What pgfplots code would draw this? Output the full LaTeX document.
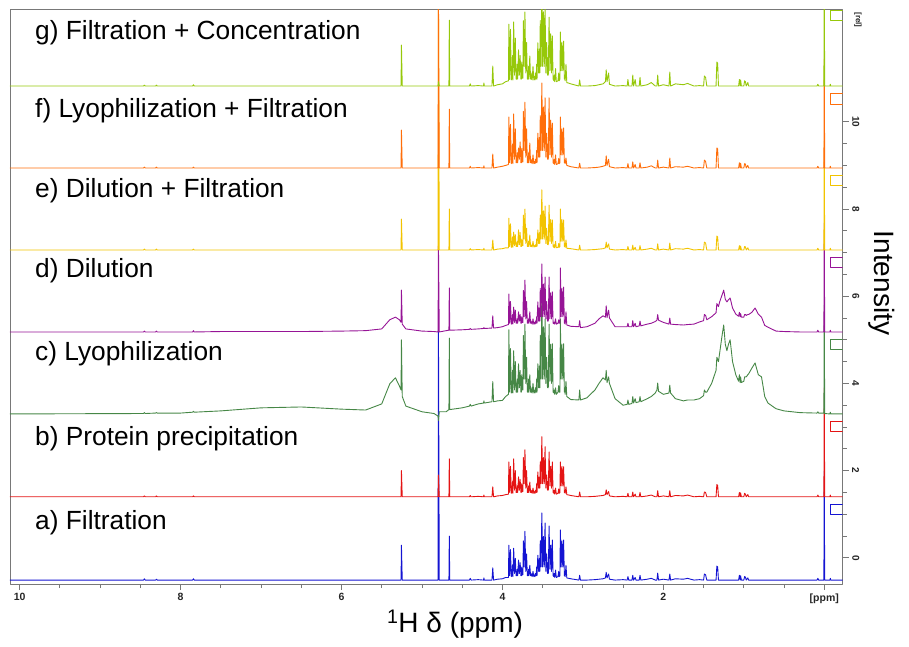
\documentclass[border=0pt]{standalone}
\usepackage{pgfplots}
\pgfplotsset{compat=1.18}
\usepackage{pgfplotstable}
\usepackage{fontspec}
\setmainfont{Liberation Sans}

\definecolor{ca}{RGB}{20,20,210}
\definecolor{cb}{RGB}{228,20,20}
\definecolor{cc}{RGB}{70,135,70}
\definecolor{cd}{RGB}{150,20,150}
\definecolor{ce}{RGB}{242,195,0}
\definecolor{cf}{RGB}{255,110,10}
\definecolor{cg}{RGB}{150,200,10}
\definecolor{frame}{RGB}{120,120,120}

% heights above each spectrum's own baseline (intensity units)
\pgfplotstableread{
ppm a b c d e f g
10.12 0 0 0 0 0 0 0
8.46 0 0 0.01 0 0 0 0
8.45 0.03 0.02 0.03 0.02 0.02 0.02 0.02
8.44 0 0 0.01 0 0 0 0
8.31 0 0 0.02 0 0 0 0
8.30 0.02 0.02 0.03 0.02 0.02 0.02 0.02
8.29 0 0 0.02 0 0 0 0
8.0 0 0 0.02 0 0 0 0
7.85 0 0 0.04 0 0 0 0
7.84 0.03 0.02 0.06 0.03 0.02 0.02 0.03
7.83 0 0 0.04 0 0 0 0
7.5 0 0 0.07 0.01 0 0 0
7.0 0 0 0.14 0.01 0 0 0
6.5 0 0 0.16 0.01 0 0 0
6.0 0 0 0.11 0.02 0 0 0
5.7 0 0 0.09 0.03 0 0 0
5.5 0 0 0.23 0.07 0 0 0
5.4 0 0 0.69 0.28 0 0 0
5.33 0 0 0.83 0.34 0 0 0
5.28 0 0 0.64 0.28 0 0 0
5.26 0 0 0.55 0.22 0 0 0
5.255 0.80 0.60 1.70 0.96 0.71 0.87 0.94
5.245 0 0 0.40 0.18 0 0 0
5.2 0 0 0.18 0.07 0 0 0
5.0 0 0 0.05 0.02 0 0 0
4.85 0 0 0.01 0.01 0 0 0
4.80 0 0 -0.05 0 0 0 0
4.795 5.80 0.50 -0.15 2.00 6.00 4.00 0.10
4.785 0 0 0.05 0 0 0 0
4.70 0 0 0.05 0.03 0 0 0
4.665 0 0 0.10 0.04 0 0 0
4.66 1.01 0.87 1.74 1.01 0.94 1.35 1.51
4.655 0 0 0.10 0.04 0 0 0
4.5 0 0 0.14 0.05 0 0 0
4.41 0 0 0.18 0.06 0 0 0
4.40 0.04 0.03 0.22 0.08 0.03 0.04 0.05
4.39 0 0 0.18 0.06 0 0 0
4.3 0.01 0.01 0.23 0.07 0.01 0.01 0.01
4.235 0 0 0.25 0.08 0 0 0
4.23 0.05 0.04 0.30 0.10 0.04 0.05 0.07
4.225 0 0 0.25 0.08 0 0 0
4.13 0 0 0.28 0.09 0 0 0
4.12 0.28 0.23 0.74 0.37 0.23 0.32 0.46
4.11 0 0 0.28 0.09 0 0 0
4.06 0.02 0.02 0.30 0.10 0.02 0.02 0.03
4.0 0.03 0.03 0.31 0.12 0.03 0.04 0.05
3.96 0.06 0.05 0.40 0.15 0.05 0.06 0.10
3.925 0.06 0.06 0.45 0.17 0.05 0.08 0.12
3.92 0.80 0.80 1.93 0.87 0.73 1.17 1.42
3.91 0.10 0.10 0.50 0.20 0.08 0.12 0.15
3.90 0.70 0.70 1.50 0.70 0.60 1.00 1.30
3.89 0.08 0.08 0.48 0.18 0.06 0.10 0.14
3.88 0.12 0.12 0.50 0.20 0.10 0.15 0.20
3.875 0.35 0.35 1.00 0.40 0.30 0.55 0.70
3.87 0.08 0.08 0.48 0.18 0.06 0.10 0.14
3.86 0.73 0.87 1.45 0.57 0.41 1.24 1.47
3.85 0.15 0.15 0.55 0.22 0.10 0.20 0.25
3.84 0.50 0.60 1.20 0.50 0.35 0.90 1.10
3.83 0.10 0.10 0.50 0.20 0.08 0.12 0.16
3.82 0.10 0.10 0.50 0.20 0.08 0.12 0.16
3.815 0.25 0.25 0.80 0.30 0.20 0.35 0.50
3.81 0.10 0.10 0.50 0.20 0.08 0.12 0.16
3.80 0.46 0.46 1.15 0.46 0.46 0.46 0.83
3.79 0.15 0.15 0.60 0.25 0.12 0.20 0.25
3.78 0.40 0.40 1.00 0.40 0.40 0.60 0.70
3.77 0.10 0.10 0.50 0.20 0.08 0.12 0.16
3.765 0.10 0.10 0.50 0.20 0.08 0.12 0.16
3.76 0.30 0.30 0.90 0.35 0.25 0.45 0.55
3.755 0.12 0.12 0.55 0.22 0.10 0.14 0.18
3.745 0.12 0.12 0.55 0.22 0.10 0.14 0.18
3.74 0.90 0.90 1.80 0.95 0.80 1.30 1.50
3.73 0.30 0.30 0.80 0.35 0.25 0.40 0.45
3.72 1.12 1.08 2.06 1.19 0.94 1.51 1.70
3.71 0.20 0.20 0.70 0.30 0.15 0.25 0.30
3.70 0.60 0.60 1.30 0.70 0.50 0.90 1.00
3.69 0.10 0.10 0.50 0.20 0.08 0.12 0.16
3.68 0.10 0.10 0.50 0.20 0.08 0.12 0.16
3.675 0.25 0.25 0.80 0.30 0.20 0.35 0.45
3.67 0.10 0.10 0.50 0.20 0.08 0.12 0.16
3.66 0.34 0.34 0.90 0.46 0.34 0.57 0.69
3.65 0.10 0.10 0.50 0.20 0.08 0.12 0.16
3.64 0.10 0.10 0.50 0.20 0.08 0.12 0.16
3.635 0.15 0.15 0.60 0.25 0.12 0.20 0.30
3.63 0.08 0.08 0.48 0.18 0.07 0.10 0.14
3.62 0.20 0.20 0.70 0.30 0.20 0.30 0.45
3.61 0.08 0.08 0.48 0.18 0.07 0.10 0.14
3.60 0.12 0.12 0.55 0.22 0.10 0.15 0.22
3.595 0.08 0.08 0.48 0.18 0.07 0.10 0.14
3.59 0.15 0.15 0.60 0.25 0.12 0.20 0.30
3.58 0.10 0.10 0.50 0.20 0.08 0.12 0.16
3.575 0.30 0.30 0.80 0.35 0.25 0.40 0.50
3.57 0.10 0.10 0.50 0.20 0.08 0.12 0.16
3.56 0.57 0.57 1.15 0.69 0.46 0.80 0.99
3.55 0.20 0.20 0.60 0.25 0.15 0.25 0.30
3.545 0.20 0.20 0.60 0.25 0.15 0.25 0.30
3.54 0.50 0.45 1.10 0.55 0.40 0.70 0.85
3.535 0.20 0.20 0.60 0.25 0.15 0.25 0.30
3.53 0.90 0.80 1.80 1.00 0.80 1.20 1.50
3.52 0.30 0.30 0.80 0.35 0.25 0.40 0.45
3.51 1.54 1.38 2.87 1.56 1.38 1.95 2.20
3.50 0.30 0.30 0.80 0.35 0.25 0.40 0.45
3.49 1.00 0.90 2.00 1.10 0.90 1.40 1.70
3.48 0.30 0.30 0.80 0.35 0.25 0.40 0.45
3.47 1.31 1.15 2.18 1.26 1.01 1.61 1.83
3.46 0.20 0.20 0.70 0.30 0.15 0.25 0.30
3.45 0.60 0.50 1.30 0.70 0.50 0.80 1.00
3.44 0.15 0.15 0.60 0.25 0.12 0.20 0.25
3.435 0.40 0.35 1.00 0.45 0.30 0.55 0.65
3.43 0.15 0.15 0.60 0.25 0.12 0.20 0.25
3.42 1.24 1.03 2.06 1.26 1.03 1.61 1.58
3.41 0.25 0.25 0.75 0.30 0.20 0.30 0.35
3.40 0.80 0.70 1.60 0.90 0.70 1.10 1.20
3.39 0.20 0.20 0.70 0.30 0.15 0.25 0.30
3.38 0.92 0.80 1.61 0.92 0.69 1.03 1.15
3.37 0.10 0.10 0.50 0.20 0.08 0.12 0.16
3.36 0.08 0.08 0.48 0.19 0.06 0.10 0.12
3.355 0.15 0.15 0.55 0.22 0.12 0.20 0.25
3.35 0.06 0.06 0.45 0.18 0.05 0.08 0.10
3.34 0.23 0.20 0.60 0.30 0.20 0.30 0.40
3.33 0.06 0.06 0.45 0.18 0.05 0.08 0.10
3.31 0.08 0.08 0.50 0.20 0.06 0.10 0.12
3.30 0.20 0.18 0.65 0.28 0.15 0.22 0.30
3.295 0.08 0.08 0.50 0.20 0.06 0.10 0.12
3.285 0.10 0.10 0.50 0.20 0.08 0.12 0.16
3.28 1.15 0.80 2.18 1.47 0.94 1.17 1.24
3.27 0.30 0.25 0.80 0.35 0.20 0.30 0.35
3.26 0.90 0.70 1.60 1.00 0.70 0.90 1.00
3.25 0.30 0.25 0.80 0.35 0.20 0.30 0.35
3.24 0.92 0.69 1.61 1.03 0.69 0.92 1.03
3.23 0.10 0.10 0.50 0.20 0.08 0.12 0.16
3.225 0.20 0.15 0.60 0.25 0.15 0.18 0.25
3.22 0.08 0.08 0.45 0.18 0.06 0.10 0.12
3.21 0.34 0.23 0.75 0.46 0.23 0.23 0.50
3.20 0.05 0.05 0.40 0.16 0.04 0.06 0.08
3.15 0.03 0.03 0.33 0.13 0.03 0.03 0.05
3.05 0 0 0.32 0.12 0 0 0
3.04 0.11 0.11 0.55 0.26 0.11 0.11 0.14
3.03 0 0 0.32 0.10 0 0 0
2.95 0 0 0.37 0.12 0 0 0
2.85 0.01 0.01 0.55 0.20 0.01 0.01 0.01
2.80 0.02 0.02 0.70 0.30 0.02 0.02 0.03
2.75 0.03 0.03 0.83 0.37 0.03 0.04 0.05
2.72 0.05 0.05 0.78 0.34 0.05 0.06 0.10
2.71 0.18 0.16 1.00 0.60 0.18 0.28 0.37
2.70 0.05 0.05 0.72 0.33 0.05 0.06 0.10
2.68 0.14 0.12 0.85 0.50 0.14 0.20 0.30
2.67 0.02 0.02 0.70 0.32 0.02 0.03 0.04
2.60 0 0 0.35 0.12 0 0 0
2.50 0.01 0.01 0.20 0.12 0.01 0.01 0.01
2.45 0 0 0.22 0.12 0 0 0
2.44 0.08 0.08 0.32 0.20 0.08 0.10 0.15
2.43 0 0 0.22 0.12 0 0 0
2.39 0 0 0.24 0.12 0 0 0
2.38 0.11 0.11 0.40 0.26 0.11 0.14 0.25
2.37 0 0 0.25 0.12 0 0 0
2.35 0.06 0.06 0.35 0.20 0.06 0.08 0.15
2.34 0 0 0.26 0.12 0 0 0
2.30 0 0 0.28 0.14 0 0 0
2.29 0.11 0.10 0.40 0.25 0.10 0.12 0.20
2.28 0 0 0.28 0.14 0 0 0
2.20 0.02 0.02 0.35 0.18 0.02 0.02 0.03
2.15 0.04 0.04 0.40 0.20 0.04 0.05 0.08
2.10 0 0 0.48 0.24 0 0 0
2.08 0 0 0.55 0.27 0 0 0
2.07 0.16 0.14 0.71 0.40 0.14 0.18 0.25
2.06 0 0 0.52 0.27 0 0 0
2.00 0.02 0.02 0.45 0.22 0.02 0.02 0.03
1.93 0 0 0.48 0.18 0 0 0
1.92 0.14 0.14 0.66 0.32 0.16 0.23 0.32
1.91 0 0 0.48 0.18 0 0 0
1.85 0.03 0.03 0.35 0.17 0.03 0.03 0.05
1.75 0.02 0.02 0.30 0.16 0.02 0.02 0.03
1.70 0.04 0.04 0.32 0.17 0.04 0.04 0.06
1.62 0 0 0.32 0.18 0 0 0
1.55 0.01 0.01 0.35 0.23 0.01 0.01 0.01
1.50 0 0 0.42 0.26 0 0 0
1.49 0.14 0.11 0.55 0.40 0.18 0.18 0.23
1.475 0.12 0.10 0.50 0.38 0.16 0.15 0.20
1.46 0 0 0.50 0.28 0 0 0
1.40 0 0 0.70 0.35 0 0 0
1.345 0 0 1.00 0.44 0 0 0
1.335 0.32 0.28 1.30 0.65 0.32 0.46 0.55
1.325 0.30 0.26 1.25 0.62 0.30 0.44 0.52
1.315 0 0 1.20 0.58 0 0 0
1.30 0 0 1.40 0.69 0 0 0
1.27 0 0 1.80 0.85 0 0 0
1.25 0 0 2.04 0.96 0 0 0
1.23 0 0 1.60 0.75 0 0 0
1.21 0 0 1.45 0.69 0 0 0
1.19 0 0 1.60 0.74 0 0 0
1.17 0 0 1.70 0.78 0 0 0
1.14 0 0 1.20 0.55 0 0 0
1.10 0 0 0.90 0.41 0 0 0
1.065 0 0 0.75 0.36 0 0 0
1.055 0.11 0.10 0.90 0.45 0.10 0.12 0.15
1.045 0 0 0.72 0.35 0 0 0
1.04 0.10 0.09 0.85 0.42 0.09 0.11 0.14
1.03 0 0 0.72 0.34 0 0 0
1.00 0 0 0.75 0.34 0 0 0
0.99 0.08 0.08 0.85 0.40 0.08 0.10 0.12
0.98 0.07 0.06 0.85 0.40 0.07 0.09 0.10
0.97 0 0 0.85 0.38 0 0 0
0.95 0.05 0.05 0.90 0.40 0.05 0.06 0.08
0.94 0 0 0.92 0.40 0 0 0
0.90 0 0 1.05 0.45 0 0 0
0.86 0 0 1.17 0.55 0 0 0
0.82 0 0 0.90 0.41 0 0 0
0.78 0 0 0.85 0.34 0 0 0
0.74 0 0 0.40 0.15 0 0 0
0.70 0 0 0.25 0.11 0 0 0
0.60 0 0 0.12 0.02 0 0 0
0.50 0 0 0.07 0.01 0 0 0
0.30 0 0 0.03 0 0 0 0
0.09 0 0 0.02 0 0 0 0
0.08 0.04 0.04 0.05 0.04 0.04 0.04 0.04
0.07 0 0 0.02 0 0 0 0
0.005 0 0 0.02 0 0 0 0
0.0 2.50 2.50 2.50 2.50 2.50 2.50 2.50
-0.005 0 0 0.01 0 0 0 0
-0.07 0 0 0 0 0 0 0
-0.075 0.04 0.04 0.04 0.04 0.04 0.04 0.04
-0.08 0 0 0 0 0 0 0
-0.229 0 0 0 0 0 0 0
}\spec

\begin{document}
\begin{tikzpicture}
\path[use as bounding box] (0pt,0pt) rectangle (909pt,646pt);
\begin{axis}[
  at={(10pt,62pt)}, anchor=south west,
  width=832.7pt, height=574.7pt, scale only axis,
  x dir=reverse,
  xmin=-0.229, xmax=10.12, ymin=-0.6, ymax=12.58,
  axis line style={frame, line width=0.8pt},
  tick style={frame, line width=0.8pt},
  tick align=outside,
  major tick length=6pt, minor tick length=4pt,
  xtick={10,8,6,4,2,0},
  xticklabels={10,8,6,4,2,{[ppm]}},
  minor x tick num=3,
  xtick pos=bottom,
  ytick={0,2,4,6,8,10},
  minor y tick num=3,
  ytick pos=right, yticklabel pos=right,
  /pgf/number format/assume math mode=true,
  xticklabel style={font=\bfseries\fontsize{10.5}{10.5}\selectfont, text=black!85},
  yticklabel style={font=\bfseries\fontsize{10}{10}\selectfont, text=black!85, rotate=-90, anchor=south},
  line join=round,
]
\addplot[ca, line width=0.9pt] table[x=ppm, y expr=\thisrow{a}-0.51] {\spec};
\addplot[cb, line width=0.9pt] table[x=ppm, y expr=\thisrow{b}+1.40] {\spec};
\addplot[cc, line width=0.9pt] table[x=ppm, y expr=\thisrow{c}+3.30] {\spec};
\addplot[cd, line width=0.9pt] table[x=ppm, y expr=\thisrow{d}+5.18] {\spec};
\addplot[ce, line width=0.9pt] table[x=ppm, y expr=\thisrow{e}+7.06] {\spec};
\addplot[cf, line width=0.9pt] table[x=ppm, y expr=\thisrow{f}+8.94] {\spec};
\addplot[cg, line width=0.9pt] table[x=ppm, y expr=\thisrow{g}+10.82] {\spec};
% spectrum colour tags at the right edge
\addplot[ca, line width=0.8pt] coordinates {(-0.229,1.22) (-0.08,1.22) (-0.08,0.99) (-0.229,0.99)};
\addplot[cb, line width=0.8pt] coordinates {(-0.229,3.12) (-0.08,3.12) (-0.08,2.89) (-0.229,2.89)};
\addplot[cc, line width=0.8pt] coordinates {(-0.229,5.00) (-0.08,5.00) (-0.08,4.77) (-0.229,4.77)};
\addplot[cd, line width=0.8pt] coordinates {(-0.229,6.88) (-0.08,6.88) (-0.08,6.65) (-0.229,6.65)};
\addplot[ce, line width=0.8pt] coordinates {(-0.229,8.76) (-0.08,8.76) (-0.08,8.53) (-0.229,8.53)};
\addplot[cf, line width=0.8pt] coordinates {(-0.229,10.64) (-0.08,10.64) (-0.08,10.41) (-0.229,10.41)};
\addplot[cg, line width=0.8pt] coordinates {(-0.229,12.56) (-0.08,12.56) (-0.08,12.33) (-0.229,12.33)};
\end{axis}
% panel labels
\begin{scope}[every node/.style={anchor=base west, inner sep=0pt, font=\fontsize{26.3}{26.3}\selectfont}]
\node at (35pt,606pt) {g) Filtration + Concentration};
\node at (35pt,528pt) {f) Lyophilization + Filtration};
\node at (35pt,448pt) {e) Dilution + Filtration};
\node at (35pt,368pt) {d) Dilution};
\node at (35pt,286pt) {c) Lyophilization};
\node at (35pt,201pt) {b) Protein precipitation};
\node at (35pt,117pt) {a) Filtration};
\end{scope}
\node[rotate=-90, inner sep=0pt, font=\bfseries\fontsize{8}{8}\selectfont, text=black!85] at (858pt,626pt) {[rel]};
\node[rotate=-90, inner sep=0pt, font=\fontsize{28}{28}\selectfont] at (882pt,363pt) {Intensity};
\node[inner sep=0pt, font=\fontsize{28}{28}\selectfont] at (455pt,22pt) {\textsuperscript{1}H δ (ppm)};
\end{tikzpicture}
\end{document}
